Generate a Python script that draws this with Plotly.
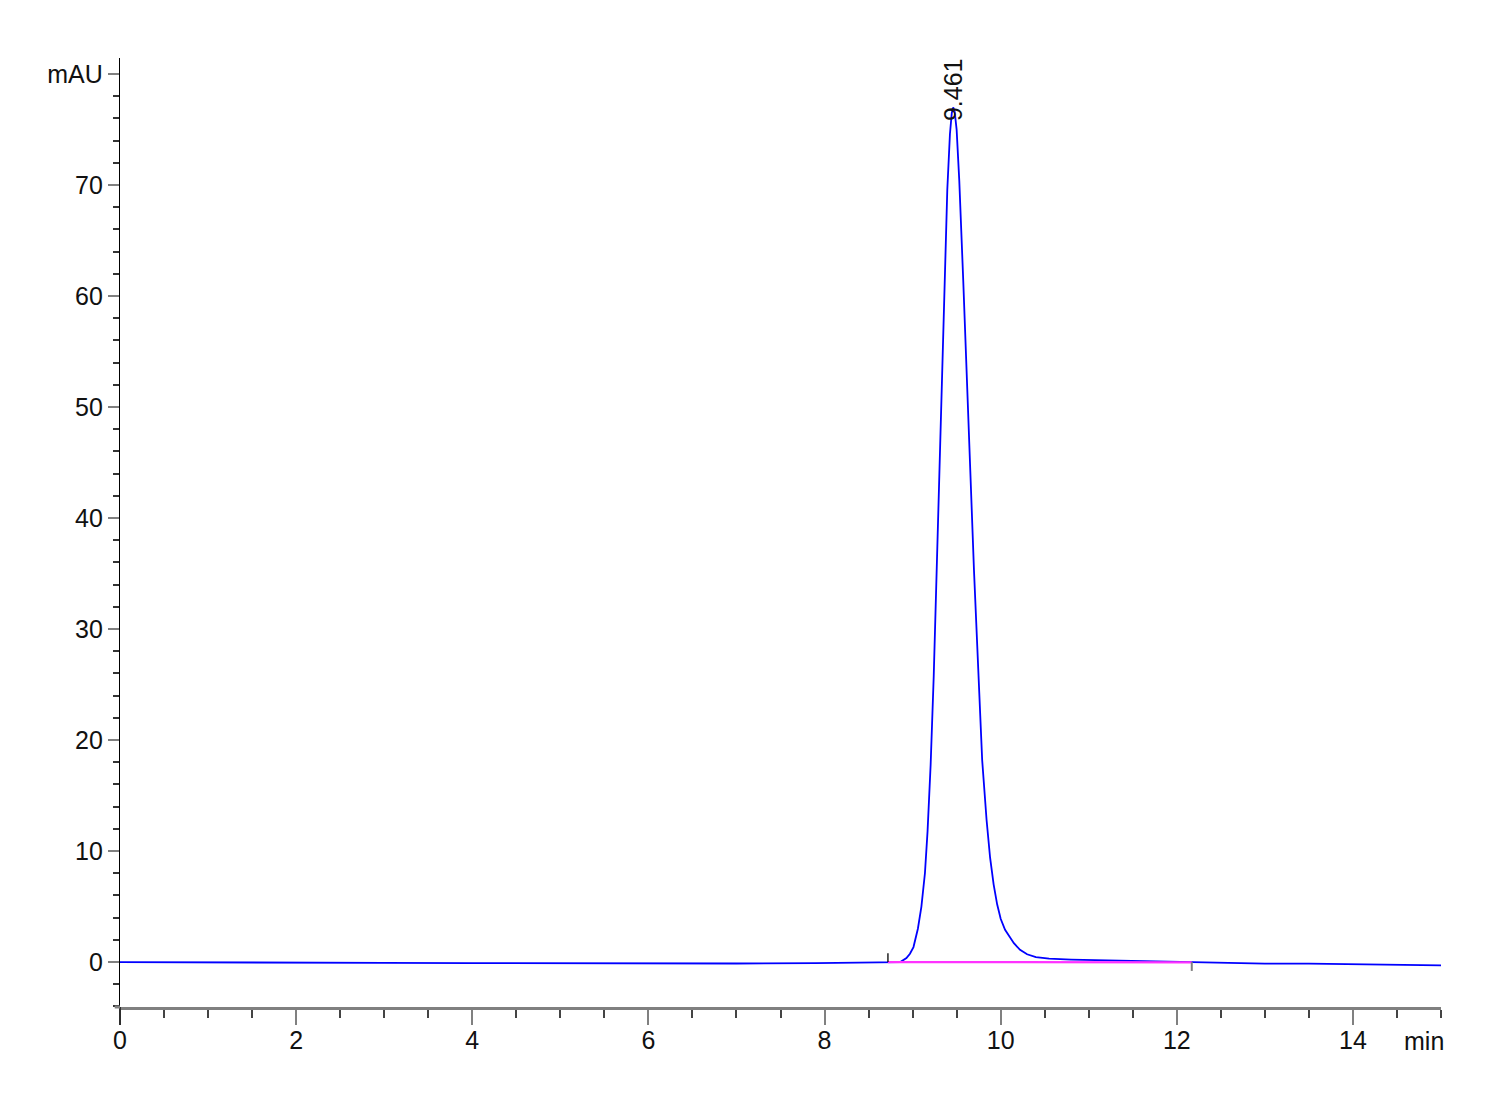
import plotly.graph_objects as go

# ---- data ----
time_min = [0.0, 0.5, 1.0, 2.0, 3.0, 4.0, 5.0, 6.0, 7.0, 7.9, 8.3, 8.7,
            8.86, 8.93, 8.97, 9.01, 9.06, 9.10, 9.14, 9.17, 9.205, 9.24,
            9.27, 9.30, 9.33, 9.36, 9.394, 9.424, 9.445, 9.461, 9.478, 9.50,
            9.53, 9.575, 9.62, 9.655, 9.697, 9.742, 9.79, 9.84, 9.88, 9.92,
            9.96, 10.00, 10.05, 10.10, 10.15, 10.22, 10.30, 10.40, 10.55,
            10.8, 11.1, 11.5, 11.8, 12.15, 12.6, 13.0, 13.5, 14.0, 14.5, 15.0]
signal_mau = [0.0, -0.02, -0.05, -0.07, -0.08, -0.09, -0.12, -0.14, -0.13,
              -0.1, -0.05, -0.02, 0.0, 0.36, 0.75, 1.35, 3.0, 5.0, 8.0, 11.8,
              17.8, 25.8, 34.2, 43.4, 52.5, 61.2, 69.6, 74.6, 76.5, 77.0,
              76.6, 75.0, 70.4, 61.4, 52.7, 44.3, 35.3, 26.6, 18.2, 12.8, 9.4,
              7.0, 5.2, 3.9, 2.9, 2.3, 1.7, 1.1, 0.7, 0.45, 0.3, 0.22, 0.17,
              0.08, 0.02, -0.05, -0.1, -0.15, -0.15, -0.2, -0.22, -0.3]

baseline_time = [8.72, 12.17]
baseline_mau = [0.0, -0.03]

peak_rt = 9.461
peak_height = 77.0
peak_label = "9.461"

event_start = 8.72
event_end = 12.17

x_tickvals = [0, 2, 4, 6, 8, 10, 12, 14]
x_ticktext = ["0", "2", "4", "6", "8", "10", "12", "14"]
y_tickvals = [0, 10, 20, 30, 40, 50, 60, 70, 80]
y_ticktext = ["0", "10", "20", "30", "40", "50", "60", "70", "mAU"]

FONT = "Liberation Sans, Arial, sans-serif"

fig = go.Figure()
fig.add_trace(go.Scatter(x=time_min, y=signal_mau, mode="lines",
                         line=dict(color="#0000FF", width=1.8),
                         showlegend=False))
fig.add_trace(go.Scatter(x=baseline_time, y=baseline_mau, mode="lines",
                         line=dict(color="#FF33FF", width=2.2),
                         showlegend=False))

# integration event markers
fig.add_shape(type="line", xref="x", yref="y", x0=event_start, x1=event_start,
              y0=0.0, y1=0.8, line=dict(color="black", width=1.3))
fig.add_shape(type="line", xref="x", yref="y", x0=event_end, x1=event_end,
              y0=0.0, y1=-0.8, line=dict(color="#808080", width=2))

# extended axis lines
fig.add_shape(type="line", xref="paper", yref="paper", x0=0, x1=0, y0=0, y1=-0.019,
              line=dict(color="black", width=1.3))
fig.add_shape(type="line", xref="paper", yref="paper", x0=-0.004, x1=0, y0=0, y1=0,
              line=dict(color="#808080", width=3))

fig.add_annotation(x=peak_rt, y=peak_height, xref="x", yref="y", text=peak_label,
                   textangle=-90, showarrow=False, yanchor="bottom", xanchor="center",
                   yshift=-16, font=dict(family=FONT, size=25, color="#111111"))
fig.add_annotation(x=0.987, y=-0.036, xref="paper", yref="paper", text="min",
                   showarrow=False, xanchor="center", yanchor="middle",
                   font=dict(family=FONT, size=25, color="#111111"))

fig.update_xaxes(range=[0, 15], tickmode="array", tickvals=x_tickvals, ticktext=x_ticktext,
                 showgrid=False, zeroline=False, showline=True, linecolor="#808080", linewidth=3,
                 ticks="outside", ticklen=15, tickwidth=2, tickcolor="#808080",
                 ticklabelstandoff=-6,
                 tickfont=dict(family=FONT, size=25, color="#111111"),
                 minor=dict(dtick=0.5, tick0=0, ticks="outside", ticklen=8, tickwidth=1.5,
                            tickcolor="#444444"))
fig.update_yaxes(range=[-4.05, 81.45], tickmode="array", tickvals=y_tickvals, ticktext=y_ticktext,
                 showgrid=False, zeroline=False, showline=True, linecolor="black", linewidth=1.3,
                 ticks="outside", ticklen=11, tickwidth=2, tickcolor="#808080",
                 ticklabelstandoff=0,
                 tickfont=dict(family=FONT, size=25, color="#111111"),
                 minor=dict(dtick=2, tick0=0, ticks="outside", ticklen=6, tickwidth=1.5,
                            tickcolor="#333333"))

fig.update_layout(width=1500, height=1100, plot_bgcolor="white", paper_bgcolor="white",
                  margin=dict(l=112, r=67, t=50, b=101), showlegend=False)

fig.write_html("out.html")
